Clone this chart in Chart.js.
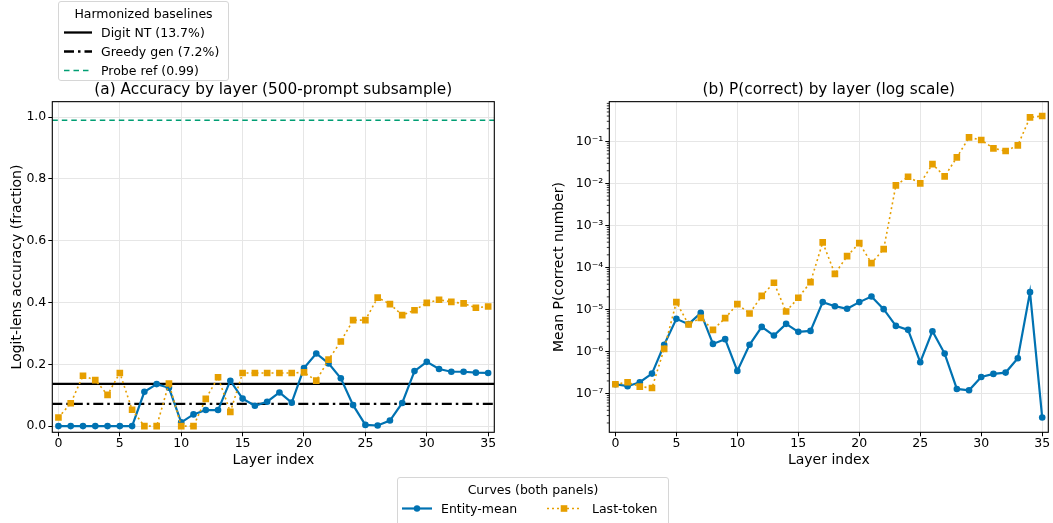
<!DOCTYPE html>
<html>
<head>
<meta charset="utf-8">
<script src="https://cdn.jsdelivr.net/npm/chart.js@4.4.0/dist/chart.umd.min.js"></script>
<style>
  body { margin: 0; width: 1053px; height: 523px; overflow: hidden; background: #fff; position: relative; font-family: "DejaVu Sans", sans-serif; }
  #accChart { position: absolute; left: 0; top: 0; }
  #probChart { position: absolute; left: 527px; top: 0; }
  .legend { position: absolute; background: rgba(255,255,255,0.8); border: 1px solid #d6d6d6; border-radius: 3px; font-size: 12.5px; color: #000; box-sizing: border-box; }
  .legend .ttl { position: absolute; left: 0; right: 0; text-align: center; height: 19px; line-height: 19px; }
  .legend .row { position: absolute; height: 19px; line-height: 19px; white-space: nowrap; }
  .legend svg { position: absolute; top: 0; }
  .legend span { position: absolute; top: 0; }
</style>
</head>
<body>
<canvas id="accChart" width="527" height="523"></canvas>
<canvas id="probChart" width="526" height="523"></canvas>

<div class="legend" style="left:58px; top:1px; width:171px; height:80px;">
  <div class="ttl" style="top:2px;">Harmonized baselines</div>
  <div class="row" style="top:21px; left:0; width:170px;">
    <svg width="28" height="19" style="left:5px"><line x1="0" y1="9.5" x2="28" y2="9.5" stroke="#000" stroke-width="2.3"/></svg>
    <span style="left:42px">Digit NT (13.7%)</span>
  </div>
  <div class="row" style="top:40px; left:0; width:170px;">
    <svg width="28" height="19" style="left:5px"><line x1="0" y1="9.5" x2="28" y2="9.5" stroke="#000" stroke-width="2.3" stroke-dasharray="10 4 2.5 4"/></svg>
    <span style="left:42px">Greedy gen (7.2%)</span>
  </div>
  <div class="row" style="top:59px; left:0; width:170px;">
    <svg width="28" height="19" style="left:5px"><line x1="0" y1="9.5" x2="28" y2="9.5" stroke="#009E73" stroke-width="1.5" stroke-dasharray="5.5 4"/></svg>
    <span style="left:42px">Probe ref (0.99)</span>
  </div>
</div>

<div class="legend" style="left:397px; top:477px; width:272px; height:50px;">
  <div class="ttl" style="top:2px;">Curves (both panels)</div>
  <div class="row" style="top:21px; left:0; width:270px;">
    <svg width="30" height="19" style="left:4px"><line x1="0" y1="9.5" x2="30" y2="9.5" stroke="#0072B2" stroke-width="2.2"/><circle cx="15" cy="9.5" r="3.2" fill="#0072B2"/></svg>
    <span style="left:43px">Entity-mean</span>
    <svg width="34" height="19" style="left:149px"><line x1="0" y1="9.5" x2="34" y2="9.5" stroke="#E69F00" stroke-width="1.6" stroke-dasharray="2 3"/><rect x="13.7" y="6.2" width="6.6" height="6.6" fill="#E69F00"/></svg>
    <span style="left:194px">Last-token</span>
  </div>
</div>

<script>
// layer indices and per-layer values
const layers = [0, 1, 2, 3, 4, 5, 6, 7, 8, 9, 10, 11, 12, 13, 14, 15, 16, 17,
  18, 19, 20, 21, 22, 23, 24, 25, 26, 27, 28, 29, 30, 31, 32, 33, 34, 35];

const accEntityMean = [0, 0, 0, 0, 0, 0, 0, 0.111, 0.136, 0.124, 0.012, 0.038,
  0.052, 0.052, 0.147, 0.089, 0.066, 0.079, 0.109, 0.076, 0.188, 0.235, 0.203,
  0.155, 0.068, 0.004, 0.002, 0.018, 0.075, 0.178, 0.208, 0.185, 0.176, 0.176,
  0.173, 0.172];
const accLastToken = [0.028, 0.074, 0.163, 0.149, 0.101, 0.172, 0.053, 0, 0,
  0.138, 0, 0, 0.088, 0.158, 0.046, 0.172, 0.172, 0.172, 0.172, 0.172, 0.174,
  0.147, 0.215, 0.274, 0.343, 0.343, 0.416, 0.395, 0.359, 0.375, 0.399, 0.409,
  0.402, 0.397, 0.383, 0.387];

const pEntityMean = [1.67e-7, 1.50e-7, 1.86e-7, 2.99e-7, 1.45e-6, 6.0e-6,
  4.48e-6, 8.3e-6, 1.52e-6, 1.97e-6, 3.47e-7, 1.45e-6, 3.86e-6, 2.40e-6,
  4.56e-6, 2.94e-6, 3.10e-6, 1.50e-5, 1.20e-5, 1.04e-5, 1.50e-5, 2.04e-5,
  1.02e-5, 4.08e-6, 3.28e-6, 5.57e-7, 3.05e-6, 8.95e-7, 1.29e-7, 1.20e-7,
  2.49e-7, 2.94e-7, 3.16e-7, 6.93e-7, 2.59e-5, 2.69e-8];
const pLastToken = [1.67e-7, 1.86e-7, 1.47e-7, 1.36e-7, 1.16e-6, 1.50e-5,
  4.40e-6, 6.34e-6, 3.28e-6, 6.22e-6, 1.34e-5, 8.04e-6, 2.11e-5, 4.32e-5,
  8.95e-6, 1.90e-5, 4.48e-5, 3.94e-4, 7.06e-5, 1.86e-4, 3.79e-4, 1.27e-4,
  2.74e-4, 8.95e-3, 1.44e-2, 1.0e-2, 2.88e-2, 1.47e-2, 4.16e-2, 1.24e-1,
  1.08e-1, 6.81e-2, 5.89e-2, 8.04e-2, 3.72e-1, 4.01e-1];

// harmonized baselines (left panel)
const digitNT = 0.137;
const greedyGen = 0.072;
const probeRef = 0.99;

// ticks
const xTicks = [0, 5, 10, 15, 20, 25, 30, 35];
const accTicks = [0, 0.2, 0.4, 0.6, 0.8, 1.0];
const logTicks = [1e-7, 1e-6, 1e-5, 1e-4, 1e-3, 1e-2, 1e-1];
const minorFactors = [2, 3, 4, 5, 6, 7, 8, 9];

const BLUE = '#0072B2', ORANGE = '#E69F00', GREEN = '#009E73';
const GRID = '#e6e6e6';
const xMin = -0.5, xMax = 35.5;

Chart.defaults.font.family = '"DejaVu Sans", sans-serif';
Chart.defaults.color = '#000';

const pts = (ys) => layers.map((x, i) => ({ x: x, y: ys[i] }));
const hline = (y) => [{ x: xMin, y: y }, { x: xMax, y: y }];

const sup = { '-': '\u207B', '0': '\u2070', '1': '\u00B9', '2': '\u00B2', '3': '\u00B3',
  '4': '\u2074', '5': '\u2075', '6': '\u2076', '7': '\u2077', '8': '\u2078', '9': '\u2079' };
const powLabel = (v) => '10' + String(Math.round(Math.log10(v))).split('').map(c => sup[c]).join('');

const framePlugin = {
  id: 'frame',
  afterDatasetsDraw(chart) {
    const { ctx, chartArea: a } = chart;
    ctx.save();
    ctx.strokeStyle = '#000';
    ctx.lineWidth = 1.1;
    ctx.strokeRect(a.left, a.top, a.right - a.left, a.bottom - a.top);
    ctx.restore();
  }
};

const minorTicksPlugin = {
  id: 'minorTicks',
  afterDraw(chart) {
    const y = chart.scales.y;
    const { ctx, chartArea: a } = chart;
    ctx.save();
    ctx.strokeStyle = '#000';
    ctx.lineWidth = 0.8;
    for (let k = -9; k <= 0; k++) {
      minorFactors.forEach(f => {
        const v = f * Math.pow(10, k);
        if (v < y.min || v > y.max) return;
        const py = y.getPixelForValue(v);
        ctx.beginPath();
        ctx.moveTo(a.left - 2.5, py);
        ctx.lineTo(a.left, py);
        ctx.stroke();
      });
    }
    ctx.restore();
  }
};

function curveSets(entity, last) {
  return [
    {
      label: 'Last-token', data: pts(last), borderColor: ORANGE, backgroundColor: ORANGE,
      borderWidth: 1.6, borderDash: [2, 3], pointStyle: 'rect', pointRadius: 4.7,
      pointBorderWidth: 0, order: 0
    },
    {
      label: 'Entity-mean', data: pts(entity), borderColor: BLUE, backgroundColor: BLUE,
      borderWidth: 2.2, pointStyle: 'circle', pointRadius: 3.3, pointBorderWidth: 0, order: 1
    }
  ];
}

function xAxis() {
  return {
    type: 'linear', min: xMin, max: xMax,
    afterBuildTicks: (s) => { s.ticks = xTicks.map(v => ({ value: v })); },
    afterFit: (s) => { s.height = 36.4; s.paddingLeft = 0; s.paddingRight = 0; },
    ticks: { font: { size: 12.5 }, padding: 0, maxRotation: 0, autoSkip: false },
    grid: { color: GRID, lineWidth: 1, tickColor: '#000', tickLength: 4, tickWidth: 1 },
    border: { display: false },
    title: { display: true, text: 'Layer index', font: { size: 14 }, padding: { top: 0, bottom: 0 } }
  };
}

function titleOpts(text) {
  return {
    display: true, text: text, fullSize: false,
    font: { size: 15.3, weight: 'normal' }, padding: { top: 0, bottom: 2.5 }
  };
}

new Chart(document.getElementById('accChart'), {
  type: 'line',
  data: {
    datasets: [
      ...curveSets(accEntityMean, accLastToken),
      { label: 'Digit NT', data: hline(digitNT), borderColor: '#000', borderWidth: 2.3, pointRadius: 0, order: 2 },
      { label: 'Greedy gen', data: hline(greedyGen), borderColor: '#000', borderWidth: 2.3, borderDash: [10, 4, 2.5, 4], pointRadius: 0, order: 2 },
      { label: 'Probe ref', data: hline(probeRef), borderColor: GREEN, borderWidth: 1.5, borderDash: [5.5, 4], pointRadius: 0, order: 2 }
    ]
  },
  options: {
    responsive: false, animation: false,
    layout: { padding: { top: 80.8, left: 0, right: 32.7, bottom: 54.3 } },
    plugins: { legend: { display: false }, tooltip: { enabled: false },
      title: titleOpts('(a) Accuracy by layer (500-prompt subsample)') },
    scales: {
      x: xAxis(),
      y: {
        type: 'linear', min: -0.02, max: 1.05,
        afterBuildTicks: (s) => { s.ticks = accTicks.map(v => ({ value: v })); },
        afterFit: (s) => { s.width = 52.3; s.paddingTop = 0; s.paddingBottom = 0; },
        ticks: { font: { size: 12.5 }, padding: 2, callback: (v) => v.toFixed(1) },
        grid: { color: GRID, lineWidth: 1, tickColor: '#000', tickLength: 4, tickWidth: 1 },
        border: { display: false },
        title: { display: true, text: 'Logit-lens accuracy (fraction)', font: { size: 14 }, padding: { top: 8.6, bottom: 0 } }
      }
    }
  },
  plugins: [framePlugin]
});

new Chart(document.getElementById('probChart'), {
  type: 'line',
  data: { datasets: curveSets(pEntityMean, pLastToken) },
  options: {
    responsive: false, animation: false,
    layout: { padding: { top: 80.8, left: 0, right: 2, bottom: 54.3 } },
    plugins: { legend: { display: false }, tooltip: { enabled: false },
      title: titleOpts('(b) P(correct) by layer (log scale)') },
    scales: {
      x: xAxis(),
      y: {
        type: 'logarithmic', min: 1.2e-8, max: 0.88,
        afterBuildTicks: (s) => { s.ticks = logTicks.map(v => ({ value: v })); },
        afterFit: (s) => { s.width = 82.3; s.paddingTop = 0; s.paddingBottom = 0; },
        ticks: { font: { size: 12.5 }, padding: 2, callback: (v) => powLabel(v) },
        grid: { color: GRID, lineWidth: 1, tickColor: '#000', tickLength: 4, tickWidth: 1 },
        border: { display: false },
        title: { display: true, text: 'Mean P(correct number)', font: { size: 14 }, padding: { top: 23.6, bottom: 0 } }
      }
    }
  },
  plugins: [framePlugin, minorTicksPlugin]
});
</script>
</body>
</html>
